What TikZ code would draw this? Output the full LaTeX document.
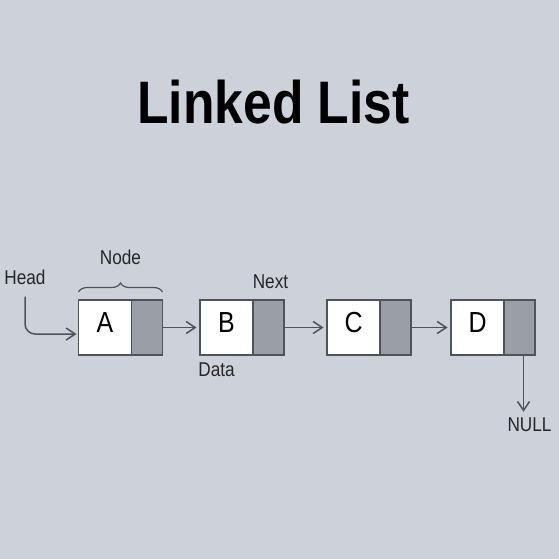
\documentclass[tikz,border=0pt]{standalone}
\usepackage{fontspec}
\setmainfont{Liberation Sans}[FakeStretch=0.86]
\usepackage{tikz}
\usetikzlibrary{positioning,arrows.meta,decorations.pathreplacing}
\definecolor{bgcol}{HTML}{CDD2DA}
\definecolor{nextcol}{HTML}{9A9EA6}
\definecolor{linecol}{HTML}{4F545B}

\begin{document}
\begin{tikzpicture}[x=1pt,y=-1pt,
  cell/.style={draw=linecol,line width=1.5pt,inner sep=0pt,outer sep=0pt,minimum height=55pt},
  datacell/.style={cell,fill=white,minimum width=53pt,text depth=9.4pt,font=\fontsize{29}{29}\selectfont},
  nextcell/.style={cell,fill=nextcol,minimum width=31pt},
  lbl/.style={inner sep=0pt,text=black!85,font=\fontsize{20}{20}\selectfont},
  link/.style={draw=linecol,line width=1.5pt,-{Straight Barb[length=9pt,width=12pt]}}]
\fill[bgcol] (0,0) rectangle (559,559);
\node[inner sep=0pt,font=\bfseries\fontsize{60}{60}\selectfont] (title) at (273.5,102) {Linked List};
% the four list nodes
\node[datacell] (dA) at (105,327.5) {A};
\node[nextcell,right=0pt of dA] (nA) {};
\node[datacell] (dB) at (226.5,327.5) {B};
\node[nextcell,right=0pt of dB] (nB) {};
\node[datacell] (dC) at (353.5,327.5) {C};
\node[nextcell,right=0pt of dC] (nC) {};
\node[datacell] (dD) at (477.5,327.5) {D};
\node[nextcell,right=0pt of dD] (nD) {};
% labels
\node[lbl] (head) at (25,277) {Head};
\node[lbl] (nodelbl) at (120.5,257.5) {Node};
\node[lbl] (nextlbl) at (270.5,281.7) {Next};
\node[lbl] (datalbl) at (216.5,369.7) {Data};
\node[lbl] (null) at (529.5,425) {NULL};
% pointers
\draw[link,shorten >=3.5pt] (nA) -- (dB);
\draw[link,shorten >=3.5pt] (nB) -- (dC);
\draw[link,shorten >=3.5pt] (nC) -- (dD);
\draw[link,rounded corners=10pt,shorten <=12pt,shorten >=2pt] (head.south) |- ([yshift=-6.5pt]dA.west);
\coordinate (down) at ([xshift=4pt]nD.south);
\draw[link,shorten >=6pt] (down) -- (down |- null.north);
\draw[linecol,line width=1.2pt,decorate,decoration={brace,amplitude=9pt,raise=8pt}] (dA.north west) -- (nA.north east);
\end{tikzpicture}
\end{document}
